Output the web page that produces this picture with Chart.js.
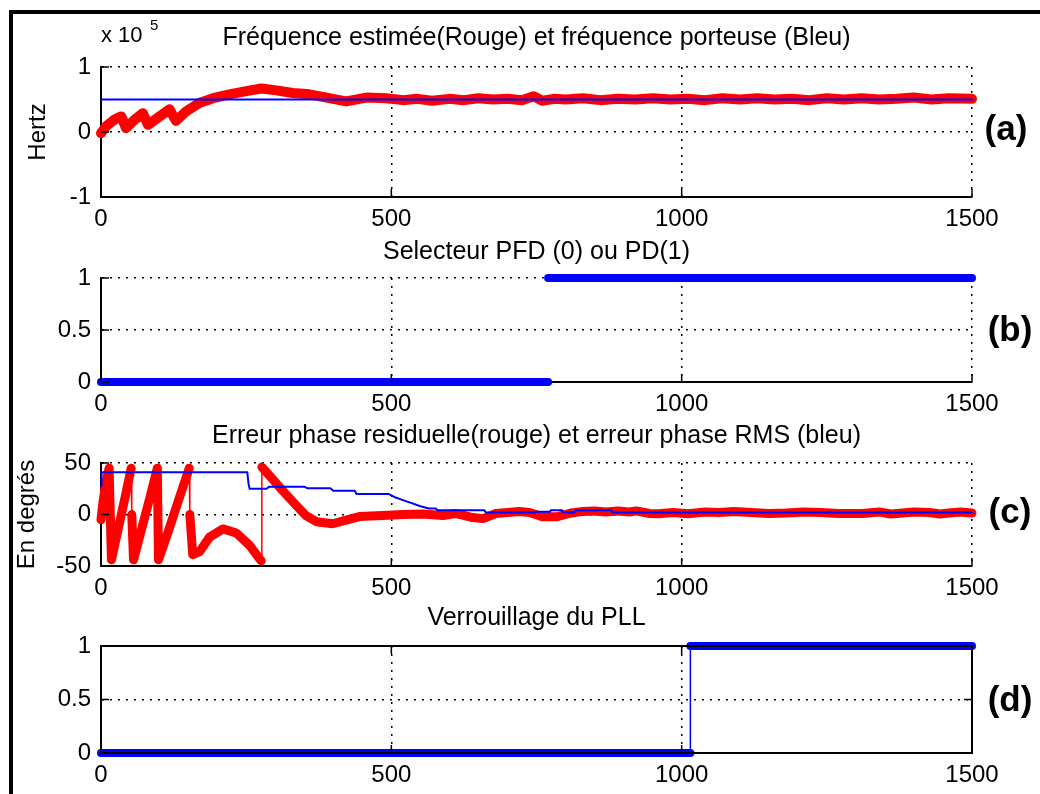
<!DOCTYPE html>
<html lang="fr">
  <head>
    <meta charset="UTF-8" />
    <title>PLL - fréquence, sélecteur, erreur de phase, verrouillage</title>
    <style>
      body { margin: 0; background: #fff; }
      #fig {
        position: relative; width: 1040px; height: 794px; overflow: hidden;
        background: #fff; font-family: "Liberation Sans", Arial, sans-serif; color: #000;
      }
      #fig canvas { position: absolute; left: 0; }
      .frame {
        position: absolute; left: 9px; top: 10px; width: 1100px; height: 900px;
        border-top: 4px solid #000; border-left: 4px solid #000;
      }
      .tag {
        position: absolute; font-weight: bold; font-size: 35px; line-height: 1;
        transform: translate(-50%, -50%);
      }
      .expo { position: absolute; line-height: 1; }
    </style>
  </head>
  <body>
    <div id="fig">
      <div class="frame"></div>
      <canvas id="cA" width="1040" height="215" style="top:26px"></canvas>
      <canvas id="cB" width="1040" height="186" style="top:240px"></canvas>
      <canvas id="cC" width="1040" height="186" style="top:424px"></canvas>
      <canvas id="cD" width="1040" height="191" style="top:606px"></canvas>
      <span class="expo" style="left:101px;top:24px;font-size:22px">x 10</span>
      <span class="expo" style="left:150px;top:17px;font-size:15px">5</span>
      <div class="tag" style="left:1006px;top:127px">(a)</div>
      <div class="tag" style="left:1010px;top:328px">(b)</div>
      <div class="tag" style="left:1010px;top:510px">(c)</div>
      <div class="tag" style="left:1010px;top:698px">(d)</div>
    </div>

    <script src="https://cdn.jsdelivr.net/npm/chart.js"></script>
    <script>
      // axe des x commun (échantillons)
      const xTicks = [0, 500, 1000, 1500];

      // (a) fréquence estimée (rouge) et porteuse (bleu), en x 10^5 Hz
      const freqX = [0, 9, 23, 35, 43, 58, 72, 81, 101, 118, 129, 147, 170, 193, 221, 250, 276, 302, 330, 359,
        393, 422, 457, 491, 520, 545, 570, 600, 625, 650, 675, 700, 725, 745, 760, 780, 800, 830, 860, 890,
        920, 950, 980, 1010, 1040, 1070, 1100, 1130, 1160, 1190, 1220, 1250, 1280, 1310, 1340, 1370, 1400,
        1430, 1460, 1500];
      const freqEst = [-0.02, 0.09, 0.19, 0.24, 0.06, 0.19, 0.29, 0.11, 0.24, 0.35, 0.17, 0.32, 0.45, 0.52, 0.58,
        0.63, 0.67, 0.64, 0.6, 0.58, 0.52, 0.47, 0.53, 0.52, 0.49, 0.51, 0.48, 0.51, 0.49, 0.52, 0.5, 0.51,
        0.49, 0.55, 0.48, 0.51, 0.5, 0.52, 0.49, 0.51, 0.5, 0.52, 0.5, 0.51, 0.49, 0.52, 0.5, 0.52, 0.5, 0.51,
        0.49, 0.52, 0.5, 0.52, 0.5, 0.51, 0.53, 0.5, 0.52, 0.51];
      const carrierX = [0, 1500];
      const carrierFreq = [0.5, 0.5];

      // (b) sélecteur PFD (0) / PD (1)
      const selX = [0, 770, 770, 1500];
      const selVal = [0, 0, 1, 1];

      // (c) erreur de phase résiduelle (rouge) et RMS (bleu), en degrés
      const phaseX = [0, 3, 8, 14, 18, 30, 42, 52, 53, 56, 70, 84, 97, 99, 115, 133, 152, 153, 158, 170,
        187, 210, 233, 256, 273, 276, 277, 296, 313, 336, 353, 371, 399, 422, 445, 485, 520, 554, 589, 610,
        623, 640, 658, 680, 700, 720, 738, 760, 784, 800, 810, 830, 850, 870, 890, 910, 922, 945, 960, 985,
        1011, 1040, 1065, 1090, 1120, 1150, 1180, 1210, 1240, 1270, 1311, 1340, 1360, 1380, 1400, 1427,
        1445, 1460, 1480, 1500];
      const phaseErr = [-5, 10, 30, 45, -44, -13, 18, 45, 0, -44, -14, 16, 45, -44, -18, 13, 45, 0, -39, -36,
        -22, -14, -18, -30, -43, -45, 46, 34, 23, 9, -1, -7, -9, -5.5, -2, -1, 0, 0.5, -1, 1,
        -0.7, -3, -4, 1, 2, 3, 2, -2.3, -2.3, 0, 1.5, 3, 3.5, 2.5, 3.5, 2.5, 3.5, 1, 0.8, 2,
        0.8, 2.5, 2, 3, 2, 1, 1.5, 2.5, 2, 1, 1, 2.5, 0.5, 1.5, 2.5, 2,
        0.5, 1.5, 2.5, 1.5];
      const rmsX = [0, 1, 252, 254, 256, 285, 290, 350, 355, 395, 400, 437, 440, 495, 505, 520, 535, 550, 565,
        577, 579, 660, 663, 748, 750, 773, 775, 794, 796, 815, 817, 879, 881, 1500];
      const rmsErr = [28, 41, 41, 30, 25, 25, 27, 27, 25.5, 25.5, 23, 23, 20, 20, 17, 14, 11, 8, 5.8,
        5.8, 4.2, 4.2, 2, 2, 2.6, 2.6, 4.2, 4.2, 2, 2, 4.2, 4.2, 2, 2];

      // (d) verrouillage du PLL
      const lockX = [0, 1015, 1015, 1500];
      const lockVal = [0, 0, 1, 1];

      const FONT = "'Liberation Sans', Arial, sans-serif";
      const RED = "#ff0000";
      const BLUE = "#0000ff";
      Chart.defaults.font.family = FONT;
      Chart.defaults.color = "#000";

      const pts = (xs, ys) => xs.map((x, i) => ({ x: x, y: ys[i] }));

      // sauts quasi verticaux tracés en trait fin (ou pas du tout)
      function jumpStyle(span, width, color) {
        const jump = (c) =>
          Math.abs(c.p1.parsed.x - c.p0.parsed.x) <= 1 &&
          Math.abs(c.p1.parsed.y - c.p0.parsed.y) >= 0.4 * span;
        return {
          borderWidth: (c) => (jump(c) ? width : undefined),
          borderColor: (c) => (jump(c) ? color : undefined),
        };
      }

      function line(data, color, width, extra) {
        return Object.assign(
          {
            data: data,
            borderColor: color,
            borderWidth: width,
            pointRadius: 0,
            fill: false,
            tension: 0,
            clip: 10,
            borderJoinStyle: "round",
            borderCapStyle: "round",
          },
          extra || {}
        );
      }

      // petites graduations vers l'intérieur, et cadre complet pour (d)
      const innerTicks = {
        id: "innerTicks",
        afterDatasetsDraw(chart, args, opts) {
          const { ctx, chartArea: a, scales } = chart;
          ctx.save();
          ctx.strokeStyle = "#000";
          ctx.lineWidth = 1.5;
          ctx.beginPath();
          scales.x.ticks.forEach((t) => {
            const px = scales.x.getPixelForValue(t.value);
            ctx.moveTo(px, a.bottom);
            ctx.lineTo(px, a.bottom - 8);
            if (opts.box) {
              ctx.moveTo(px, a.top);
              ctx.lineTo(px, a.top + 8);
            }
          });
          scales.y.ticks.forEach((t) => {
            const py = scales.y.getPixelForValue(t.value);
            ctx.moveTo(a.left, py);
            ctx.lineTo(a.left + 8, py);
            if (opts.box) {
              ctx.moveTo(a.right, py);
              ctx.lineTo(a.right - 8, py);
            }
          });
          ctx.stroke();
          if (opts.box) {
            ctx.lineWidth = 2;
            ctx.strokeRect(a.left, a.top, a.width, a.height);
          }
          ctx.restore();
        },
      };

      function panel(id, p) {
        const gridOpts = { color: "#000", lineWidth: 1.5, drawTicks: false };
        const borderOpts = { display: true, color: "#000", width: 2, dash: [2, 6] };
        const tickFont = { family: FONT, size: 24, lineHeight: 1 };
        return new Chart(document.getElementById(id), {
          type: "line",
          data: { datasets: p.datasets },
          options: {
            responsive: false,
            animation: false,
            devicePixelRatio: 1,
            layout: { padding: { left: 0, right: 68, top: 0, bottom: 0 } },
            plugins: {
              legend: { display: false },
              tooltip: { enabled: false },
              title: {
                display: true,
                text: p.title,
                color: "#000",
                fullSize: false,
                font: { family: FONT, size: 25, weight: "normal", lineHeight: 1 },
                padding: { top: 0, bottom: p.titleGap },
              },
              innerTicks: { box: !!p.box },
            },
            scales: {
              x: {
                type: "linear",
                min: 0,
                max: 1500,
                afterBuildTicks: (s) => {
                  s.ticks = xTicks.map((v) => ({ value: v }));
                },
                ticks: {
                  color: "#000",
                  padding: 10,
                  font: tickFont,
                  maxRotation: 0,
                  autoSkip: false,
                  callback: (v) => String(v),
                },
                grid: gridOpts,
                border: borderOpts,
              },
              y: {
                type: "linear",
                min: p.yMin,
                max: p.yMax,
                ticks: {
                  stepSize: p.yStep,
                  color: "#000",
                  padding: 10,
                  font: tickFont,
                  callback: (v) => String(v),
                },
                grid: gridOpts,
                border: borderOpts,
                title: {
                  display: !!p.yTitle,
                  text: p.yTitle || "",
                  color: "#000",
                  font: { family: FONT, size: 24, lineHeight: 1 },
                  padding: { top: p.yTitlePad || 0, bottom: 0 },
                },
                afterFit: (s) => {
                  s.width = 101;
                },
              },
            },
          },
          plugins: [innerTicks],
        });
      }

      panel("cA", {
        title: "Fréquence estimée(Rouge) et fréquence porteuse (Bleu)",
        titleGap: 16,
        yMin: -1, yMax: 1, yStep: 1,
        yTitle: "Hertz", yTitlePad: 26,
        datasets: [
          line(pts(carrierX, carrierFreq), BLUE, 2),
          line(pts(freqX, freqEst), RED, 10),
        ],
      });

      panel("cB", {
        title: "Selecteur PFD (0) ou PD(1)",
        titleGap: 13,
        yMin: 0, yMax: 1, yStep: 0.5,
        datasets: [
          line(pts(selX, selVal), BLUE, 8, { segment: jumpStyle(1, 1, "rgba(0,0,0,0)") }),
        ],
      });

      panel("cC", {
        title: "Erreur phase residuelle(rouge) et erreur phase RMS (bleu)",
        titleGap: 14,
        yMin: -50, yMax: 50, yStep: 50,
        yTitle: "En degrés", yTitlePad: 15,
        datasets: [
          line(pts(rmsX, rmsErr), BLUE, 2),
          line(pts(phaseX, phaseErr), RED, 9, { segment: jumpStyle(100, 1.5, RED) }),
        ],
      });

      panel("cD", {
        title: "Verrouillage du PLL",
        titleGap: 15,
        yMin: 0, yMax: 1, yStep: 0.5,
        box: true,
        datasets: [
          line(pts(lockX, lockVal), BLUE, 8, { segment: jumpStyle(1, 1.5, BLUE) }),
        ],
      });
    </script>
  </body>
</html>
